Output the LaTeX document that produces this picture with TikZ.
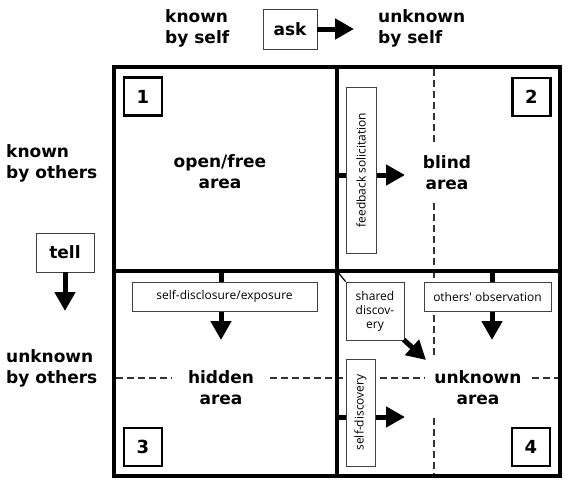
\documentclass[tikz,border=0pt]{standalone}
\usepackage{fontspec}
\setmainfont{DejaVu Sans}
\newfontfamily\smallfont{Open Sans}
\usetikzlibrary{arrows.meta}
\begin{document}
\begin{tikzpicture}[x=1pt,y=-1pt,
  lbl/.style={font=\bfseries\fontsize{17}{21}\selectfont, inner sep=0pt},
  area/.style={lbl, align=center},
  side/.style={lbl, align=left, anchor=west},
  numbox/.style={draw, line width=2.6pt, minimum width=38pt, minimum height=38pt, inner sep=0pt, font=\bfseries\fontsize{18}{18}\selectfont, fill=white},
  keybox/.style={draw=black!75, line width=0.9pt, fill=white, inner sep=0pt, font=\bfseries\fontsize{17}{21}\selectfont},
  tagbox/.style={draw=black!75, line width=0.9pt, fill=white, inner sep=0pt, font=\smallfont\fontsize{12}{14}\selectfont, align=center},
  bigarrow/.style={line width=5pt, -{Triangle[length=19pt,width=20pt]}},
  dline/.style={line width=1.4pt, black!80, dash pattern=on 7pt off 4pt},
  frame/.style={line width=3.6pt}
]
\useasboundingbox (0,0) rectangle (571,480);

% dashed guide lines
\draw[dline] (434,69) -- (434,142);
\draw[dline] (434,203) -- (434,271);
\draw[dline] (434,271) -- (434,358);
\draw[dline] (434,418) -- (434,474);
\draw[dline] (116,378) -- (172,378);
\draw[dline] (270,378) -- (425,378);
\draw[dline] (532,378) -- (558,378);

% header labels
\node[side] (kself) at (165,28) {known\\by self};
\node[side] (uself) at (378,28) {unknown\\by self};
\node[keybox, minimum width=54pt, minimum height=40pt] (ask) at (290,29) {ask};
\coordinate (askend) at (354,29);
\draw[bigarrow] (ask.east) -- (askend);

\node[side] (kothers) at (6,163) {known\\by others};
\node[side] (uothers) at (6,368) {unknown\\by others};
\node[keybox, minimum width=58pt, minimum height=39pt] (tell) at (65,252.5) {tell};
\coordinate (tellend) at (65,311);
\draw[bigarrow] (tell.south) -- (tellend);

% arrows inside the grid
\coordinate (fbs) at (337,175);
\coordinate (fbe) at (405,175);
\draw[bigarrow] (fbs) -- (fbe);
\coordinate (sds) at (221,271);
\coordinate (sde) at (221,340);
\draw[bigarrow] (sds) -- (sde);
\coordinate (oos) at (492,271);
\coordinate (ooe) at (492,340);
\draw[bigarrow] (oos) -- (ooe);
\coordinate (sfs) at (337,417);
\coordinate (sfe) at (405,417);
\draw[bigarrow] (sfs) -- (sfe);

% tag boxes
\node[tagbox, rotate=90, minimum width=166pt, minimum height=30pt] (fb) at (361,170) {feedback solicitation};
\node[tagbox, minimum width=185pt, minimum height=29pt] (disc) at (224.5,296.5) {self-disclosure/exposure};
\node[tagbox, minimum width=127pt, minimum height=29pt] (obs) at (487.5,296.5) {others' observation};
\node[tagbox, rotate=90, minimum width=107pt, minimum height=29pt] (selfd) at (360.5,412.5) {self-discovery};
\node[tagbox, minimum width=58pt, minimum height=58pt] (shared) at (375,311) {shared\\discov-\\ery};
\coordinate (corner) at (337,271);
\coordinate (shend) at (426,360);
\draw[line width=1.2pt] (corner) -- (shared.north west);
\draw[bigarrow, shorten <=-1pt] (shared.south east) -- (shend);

% frame
\draw[frame] (114,67) rectangle (560,476);
\draw[frame] (337,67) -- (337,476);
\draw[frame] (114,271) -- (560,271);

% area labels
\node[area] (open) at (220,172) {open/free\\area};
\node[area] (blind) at (447,173) {blind\\area};
\node[area] (hidden) at (221,388) {hidden\\area};
\node[area] (unknown) at (478,388) {unknown\\area};

% number boxes
\node[numbox] (n1) at (143,96.5) {1};
\node[numbox] (n2) at (531.5,97) {2};
\node[numbox] (n3) at (143,447) {3};
\node[numbox] (n4) at (531,447) {4};
\end{tikzpicture}
\end{document}
